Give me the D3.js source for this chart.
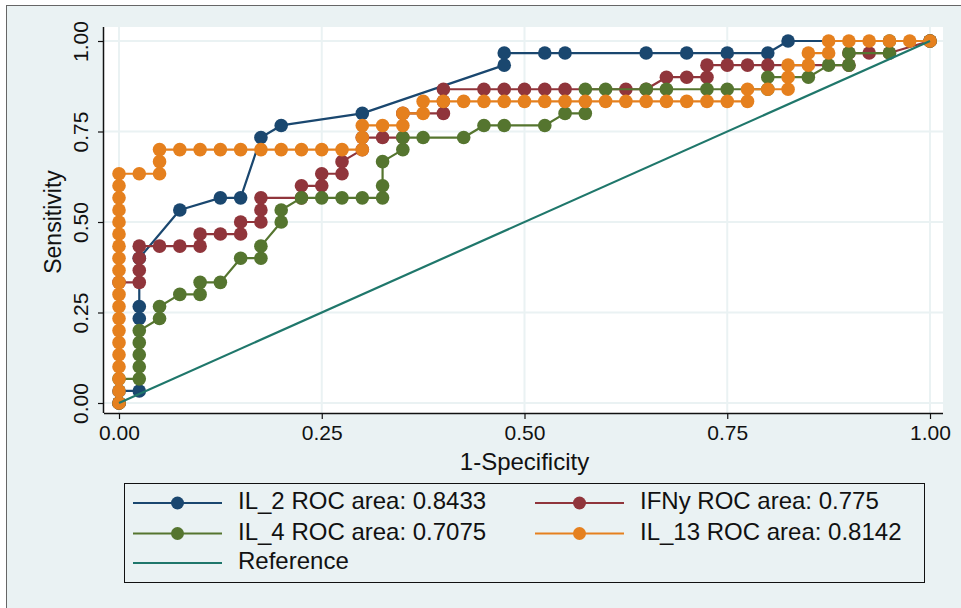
<!DOCTYPE html>
<html>
<head>
<meta charset="utf-8">
<script src="https://cdn.jsdelivr.net/npm/d3@7"></script>
<style>
  html, body { margin: 0; padding: 0; background: #ffffff; }
  svg text { font-family: "Liberation Sans", Arial, sans-serif; fill: #111; }
</style>
</head>
<body>
<svg id="chart" width="961" height="608"></svg>
<script>
// ---- data: ROC points as [1-Specificity, Sensitivity] ----
const xTicks = [0, 0.25, 0.5, 0.75, 1];
const yTicks = [0, 0.25, 0.5, 0.75, 1];
const xTitle = "1-Specificity";
const yTitle = "Sensitivity";

const il2 = [[0,0],[0,0.0333],[0.025,0.0333],[0.025,0.2333],[0.025,0.2667],[0.025,0.4],[0.075,0.5333],
  [0.125,0.5667],[0.15,0.5667],[0.175,0.7333],[0.2,0.7667],[0.3,0.8],[0.475,0.9333],[0.475,0.9667],
  [0.525,0.9667],[0.55,0.9667],[0.65,0.9667],[0.7,0.9667],[0.75,0.9667],[0.8,0.9667],[0.825,1],[1,1]];

const ifny = [[0,0],[0,0.3333],[0.025,0.3333],[0.025,0.3667],[0.025,0.4],[0.025,0.4333],[0.05,0.4333],
  [0.075,0.4333],[0.1,0.4333],[0.1,0.4667],[0.125,0.4667],[0.15,0.4667],[0.15,0.5],[0.175,0.5],
  [0.175,0.5333],[0.175,0.5667],[0.225,0.5667],[0.225,0.6],[0.25,0.6],[0.25,0.6333],[0.275,0.6333],
  [0.275,0.6667],[0.3,0.7],[0.3,0.7333],[0.325,0.7333],[0.35,0.7333],[0.35,0.8],[0.4,0.8],[0.4,0.8333],
  [0.4,0.8667],[0.45,0.8667],[0.475,0.8667],[0.5,0.8667],[0.525,0.8667],[0.55,0.8667],[0.625,0.8667],
  [0.65,0.8667],[0.675,0.9],[0.7,0.9],[0.725,0.9],[0.725,0.9333],[0.75,0.9333],[0.775,0.9333],
  [0.8,0.9333],[0.9,0.9333],[0.9,0.9667],[0.925,0.9667],[0.95,0.9667],[1,1]];

const il4 = [[0,0],[0,0.0667],[0.025,0.0667],[0.025,0.1],[0.025,0.1333],[0.025,0.1667],[0.025,0.2],
  [0.05,0.2333],[0.05,0.2667],[0.075,0.3],[0.1,0.3],[0.1,0.3333],[0.125,0.3333],[0.15,0.4],[0.175,0.4],
  [0.175,0.4333],[0.2,0.5],[0.2,0.5333],[0.225,0.5667],[0.25,0.5667],[0.275,0.5667],[0.3,0.5667],
  [0.325,0.5667],[0.325,0.6],[0.325,0.6667],[0.35,0.7],[0.35,0.7333],[0.375,0.7333],[0.425,0.7333],
  [0.45,0.7667],[0.475,0.7667],[0.525,0.7667],[0.55,0.8],[0.575,0.8],[0.575,0.8667],[0.6,0.8667],
  [0.65,0.8667],[0.675,0.8667],[0.725,0.8667],[0.75,0.8667],[0.8,0.8667],[0.8,0.9],[0.85,0.9],
  [0.875,0.9333],[0.9,0.9333],[0.9,0.9667],[0.95,0.9667],[0.95,1],[1,1]];

const il13 = [[0,0],[0,0.0333],[0,0.0667],[0,0.1],[0,0.1333],[0,0.1667],[0,0.2],[0,0.2333],[0,0.2667],
  [0,0.3],[0,0.3333],[0,0.3667],[0,0.4],[0,0.4333],[0,0.4667],[0,0.5],[0,0.5333],[0,0.5667],[0,0.6],
  [0,0.6333],[0.025,0.6333],[0.05,0.6333],[0.05,0.6667],[0.05,0.7],[0.075,0.7],[0.1,0.7],[0.125,0.7],
  [0.15,0.7],[0.175,0.7],[0.2,0.7],[0.225,0.7],[0.25,0.7],[0.275,0.7],[0.3,0.7],[0.3,0.7333],
  [0.3,0.7667],[0.325,0.7667],[0.35,0.7667],[0.35,0.8],[0.375,0.8],[0.375,0.8333],[0.4,0.8333],
  [0.425,0.8333],[0.45,0.8333],[0.475,0.8333],[0.5,0.8333],[0.525,0.8333],[0.55,0.8333],[0.575,0.8333],
  [0.6,0.8333],[0.625,0.8333],[0.65,0.8333],[0.675,0.8333],[0.7,0.8333],[0.725,0.8333],[0.75,0.8333],
  [0.775,0.8333],[0.775,0.8667],[0.8,0.8667],[0.825,0.8667],[0.825,0.9],[0.825,0.9333],[0.85,0.9333],
  [0.85,0.9667],[0.875,0.9667],[0.875,1],[0.9,1],[0.925,1],[0.95,1],[0.975,1],[1,1]];

const refLine = [[0,0],[1,1]];

const seriesNames = ["IL_2", "IFNy", "IL_4", "IL_13"];
const rocAreas = ["0.8433", "0.775", "0.7075", "0.8142"];
const seriesColors = ["#1a476f", "#90353b", "#55752f", "#e5801e"];
const refColor = "#1f776b";
const refName = "Reference";

// ---- layout ----
const svg = d3.select("#chart");
const bg = "#eaf2f3";
svg.append("rect").attr("x", 6).attr("y", 5).attr("width", 955).attr("height", 603).attr("fill", bg);
svg.append("line").attr("x1", 6.5).attr("x2", 6.5).attr("y1", 5).attr("y2", 608).attr("stroke", "#666").attr("stroke-width", 1);
svg.append("line").attr("x1", 6).attr("x2", 961).attr("y1", 5.5).attr("y2", 5.5).attr("stroke", "#666").attr("stroke-width", 1);

const plot = { left: 104, right: 943, top: 27, bottom: 413 };
svg.append("rect").attr("x", plot.left).attr("y", plot.top)
  .attr("width", plot.right - plot.left).attr("height", plot.bottom - plot.top).attr("fill", "#ffffff");

const x = d3.scaleLinear().domain([0, 1]).range([119, 930]);
const y = d3.scaleLinear().domain([0, 1]).range([403, 41]);

// gridlines
const grid = svg.append("g");
grid.selectAll(".gx").data(xTicks).join("line")
  .attr("x1", d => x(d)).attr("x2", d => x(d)).attr("y1", plot.top).attr("y2", plot.bottom)
  .attr("stroke", bg).attr("stroke-width", 2);
grid.selectAll(".gy").data(yTicks).join("line")
  .attr("x1", plot.left).attr("x2", plot.right).attr("y1", d => y(d)).attr("y2", d => y(d))
  .attr("stroke", bg).attr("stroke-width", 2);

// axes
const xAxis = d3.axisBottom(x).tickValues(xTicks).tickFormat(d3.format(".2f")).tickSize(6).tickPadding(6);
const gx = svg.append("g").attr("transform", `translate(0,${plot.bottom})`).call(xAxis);
gx.select(".domain").attr("d", `M${plot.left},0.5H${plot.right}`).attr("stroke", "#111").attr("stroke-width", 1.5);
gx.selectAll(".tick line").attr("stroke", "#111").attr("stroke-width", 1.2);
gx.selectAll(".tick text").attr("font-size", 21).attr("font-family", "Liberation Sans, Arial, sans-serif").attr("fill", "#111");

const yAxis = d3.axisLeft(y).tickValues(yTicks).tickFormat(d3.format(".2f")).tickSize(6).tickPadding(6);
const gy = svg.append("g").attr("transform", `translate(${plot.left},0)`).call(yAxis);
gy.select(".domain").attr("d", `M-0.5,${plot.top}V${plot.bottom}`).attr("stroke", "#111").attr("stroke-width", 1.5);
gy.selectAll(".tick line").attr("stroke", "#111").attr("stroke-width", 1.2);
gy.selectAll(".tick text")
  .attr("font-size", 21).attr("font-family", "Liberation Sans, Arial, sans-serif").attr("fill", "#111")
  .attr("x", null).attr("dy", null)
  .attr("text-anchor", "middle")
  .attr("transform", "translate(-22,0) rotate(-90)")
  .attr("dominant-baseline", "middle");

svg.append("text").attr("x", x(0.5)).attr("y", 470).attr("text-anchor", "middle")
  .attr("font-size", 24).text(xTitle);
svg.append("text").attr("transform", `translate(55,${y(0.5)}) rotate(-90)`).attr("text-anchor", "middle")
  .attr("dominant-baseline", "middle").attr("font-size", 23).text(yTitle);

// series
const line = d3.line().x(d => x(d[0])).y(d => y(d[1]));
const allSeries = [il2, ifny, il4, il13];
allSeries.forEach((s, k) => {
  const g = svg.append("g");
  g.append("path").datum(s).attr("d", line).attr("fill", "none")
    .attr("stroke", seriesColors[k]).attr("stroke-width", 2.2).attr("stroke-linejoin", "round");
  g.selectAll("circle").data(s).join("circle")
    .attr("cx", d => x(d[0])).attr("cy", d => y(d[1])).attr("r", 6.8)
    .attr("fill", seriesColors[k]);
});
svg.append("path").datum(refLine).attr("d", line).attr("fill", "none")
  .attr("stroke", refColor).attr("stroke-width", 2.2);

// legend
const lg = svg.append("g");
lg.append("rect").attr("x", 124.5).attr("y", 483.5).attr("width", 800).attr("height", 99)
  .attr("fill", bg).attr("stroke", "#111").attr("stroke-width", 1);
const legendItems = [
  { label: `${seriesNames[0]} ROC area: ${rocAreas[0]}`, color: seriesColors[0], dot: true, col: 0, row: 0 },
  { label: `${seriesNames[1]} ROC area: ${rocAreas[1]}`, color: seriesColors[1], dot: true, col: 1, row: 0 },
  { label: `${seriesNames[2]} ROC area: ${rocAreas[2]}`, color: seriesColors[2], dot: true, col: 0, row: 1 },
  { label: `${seriesNames[3]} ROC area: ${rocAreas[3]}`, color: seriesColors[3], dot: true, col: 1, row: 1 },
  { label: refName, color: refColor, dot: false, col: 0, row: 2 }
];
const colX = [133, 535];
const rowY = [503, 533.5, 563];
legendItems.forEach(it => {
  const x0 = colX[it.col], yy = rowY[it.row];
  lg.append("line").attr("x1", x0).attr("x2", x0 + 89).attr("y1", yy).attr("y2", yy)
    .attr("stroke", it.color).attr("stroke-width", 2.2);
  if (it.dot) lg.append("circle").attr("cx", x0 + 44.5).attr("cy", yy).attr("r", 6.5).attr("fill", it.color);
  lg.append("text").attr("x", x0 + 105).attr("y", yy).attr("dominant-baseline", "middle")
    .attr("font-size", 24).text(it.label);
});
</script>
</body>
</html>
